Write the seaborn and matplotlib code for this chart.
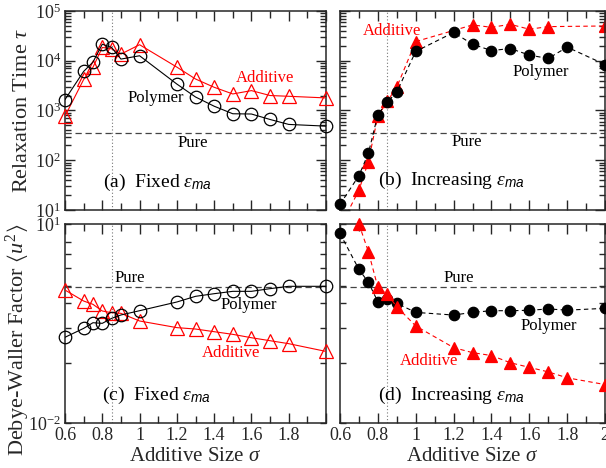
import numpy as np
import matplotlib
matplotlib.use("Agg")
import matplotlib.pyplot as plt
import matplotlib.ticker as mticker
import seaborn as sns

# ---------------- data ----------------
sigma = [0.6, 0.7, 0.75, 0.8, 0.85, 0.9, 1.0, 1.2, 1.3, 1.4, 1.5, 1.6, 1.7, 1.8, 2.0]

tau_poly_fixed = [1660, 6100, 9400, 21500, 18500, 10800, 12600, 3400, 1870, 1220, 860, 850, 660, 525, 485]
tau_add_fixed = [770, 4200, 7400, 18500, 17400, 13600, 21000, 7450, 4300, 2930, 2150, 2510, 2000, 1930, 1790]

tau_poly_inc = [13, 49, 138, 830, 1470, 2360, 15400, 37000, 21500, 16000, 17600, 13000, 11100, 18800, 8400]
sigma_add_inc_tau = [0.6, 0.7, 0.75, 0.8, 0.85, 0.9, 1.0, 1.3, 1.4, 1.5, 1.6, 1.7, 2.0]
tau_add_inc = [4.5, 25, 94, 770, 1540, 2950, 24300, 52500, 47000, 54000, 43000, 48500, 50000]

dw_poly_fixed = [0.196, 0.267, 0.325, 0.318, 0.378, 0.425, 0.493, 0.667, 0.812, 0.89, 0.966, 0.966, 1.06, 1.15, 1.15]
dw_add_fixed = [1.01, 0.69, 0.615, 0.488, 0.46, 0.45, 0.345, 0.274, 0.261, 0.238, 0.217, 0.193, 0.174, 0.157, 0.12]

dw_poly_inc = [7.2, 2.07, 1.32, 0.675, 0.73, 0.637, 0.465, 0.424, 0.465, 0.493, 0.493, 0.5, 0.524, 0.503, 0.535]
sigma_add_inc_dw = [0.7, 0.75, 0.8, 0.85, 0.9, 1.0, 1.2, 1.3, 1.4, 1.5, 1.6, 1.7, 1.8, 2.0]
dw_add_inc = [10.0, 3.83, 1.11, 0.87, 0.566, 0.29, 0.137, 0.115, 0.104, 0.081, 0.069, 0.059, 0.048, 0.038]

tau_pure = 360
dw_pure = 1.135
sigma_star = 0.85

tau_lim = (10, 1e5)
dw_lim = (0.01, 10)
dw_minor_ticks = [5.3, 3.5, 2.15, 1.17, 0.64, 0.27, 0.079]
x_tick_labels = ["0.6", "0.8", "1", "1.2", "1.4", "1.6", "1.8", "2"]

# ---------------- style ----------------
sns.set_style("ticks")
plt.rcParams['font.family'] = ['Liberation Serif', 'DejaVu Serif']
plt.rcParams['mathtext.fontset'] = 'custom'
plt.rcParams['mathtext.rm'] = 'Liberation Serif'
plt.rcParams['mathtext.it'] = 'Liberation Serif:italic'
plt.rcParams['mathtext.sf'] = 'Liberation Sans:italic'
plt.rcParams['mathtext.fallback'] = 'stix'
plt.rcParams['axes.linewidth'] = 1.1

RED = '#ff0000'
W, H = 606, 468
fig = plt.figure(figsize=(W / 100, H / 100), dpi=100)


def rect(x0, y0, x1, y1):
    return [x0 / W, 1 - y1 / H, (x1 - x0) / W, (y1 - y0) / H]


ax_a = fig.add_axes(rect(65, 11, 326, 210))
ax_b = fig.add_axes(rect(340, 11, 605, 210))
ax_c = fig.add_axes(rect(65, 224, 326, 423))
ax_d = fig.add_axes(rect(340, 224, 605, 423))


def draw(ax, x, y, color, ls, marker, filled, ms, ylim, zorder):
    x = np.asarray(x, float)
    y = np.asarray(y, float)
    sns.lineplot(x=x, y=y, ax=ax, color=color, lw=0.8, linestyle=ls,
                 sort=False, estimator=None, zorder=zorder)
    m = (y >= ylim[0] * 0.999) & (y <= ylim[1] * 1.001)
    sns.lineplot(x=x[m], y=y[m], ax=ax, color=color, linestyle='none',
                 marker=marker, markersize=ms,
                 markerfacecolor=color if filled else 'none',
                 markeredgecolor=color, markeredgewidth=0.9,
                 sort=False, estimator=None, clip_on=False, zorder=zorder + 0.5)


dash = (0, (4, 3))
# (a)
draw(ax_a, sigma, tau_add_fixed, RED, '-', '^', False, 9.5, tau_lim, 3)
draw(ax_a, sigma, tau_poly_fixed, 'black', '-', 'o', False, 9, tau_lim, 4)
# (b)
draw(ax_b, sigma, tau_poly_inc, 'black', dash, 'o', True, 7.5, tau_lim, 3)
draw(ax_b, sigma_add_inc_tau, tau_add_inc, RED, dash, '^', True, 8, tau_lim, 2)
# (c)
draw(ax_c, sigma, dw_add_fixed, RED, '-', '^', False, 9.5, dw_lim, 3)
draw(ax_c, sigma, dw_poly_fixed, 'black', '-', 'o', False, 9, dw_lim, 4)
# (d)
draw(ax_d, sigma, dw_poly_inc, 'black', dash, 'o', True, 7.5, dw_lim, 3)
draw(ax_d, sigma_add_inc_dw, dw_add_inc, RED, dash, '^', True, 8, dw_lim, 4)

for ax, pure, ylim in [(ax_a, tau_pure, tau_lim), (ax_b, tau_pure, tau_lim),
                       (ax_c, dw_pure, dw_lim), (ax_d, dw_pure, dw_lim)]:
    ax.axhline(pure, color='#444444', lw=0.9, ls=(0, (5, 3)), zorder=1)
    ax.axvline(sigma_star, color='#777777', lw=0.8, ls=(0, (1, 2)), zorder=1)
    ax.set_yscale('log')
    ax.set_ylim(*ylim)
    ax.set_xlim(0.6, 2.0)
    ax.xaxis.set_major_locator(mticker.MultipleLocator(0.2))
    ax.xaxis.set_minor_locator(mticker.MultipleLocator(0.1))
    ax.tick_params(which='both', direction='in', top=True, right=True,
                   labelsize=13, pad=3, width=1.0)
    ax.tick_params(which='major', length=7)
    ax.tick_params(which='minor', length=4)
    ax.tick_params(axis='x', which='minor', length=5)
    ax.set_xlabel('')
    ax.set_ylabel('')

for ax in (ax_a, ax_b):
    ax.yaxis.set_major_locator(mticker.LogLocator(base=10, numticks=10))
    ax.yaxis.set_minor_locator(mticker.LogLocator(base=10, subs=np.arange(2, 10), numticks=10))
    ax.yaxis.set_minor_formatter(mticker.NullFormatter())
    ax.tick_params(axis='x', labelbottom=False)

for ax in (ax_c, ax_d):
    ax.yaxis.set_major_locator(mticker.FixedLocator([0.01, 10]))
    ax.yaxis.set_minor_locator(mticker.FixedLocator(dw_minor_ticks))
    ax.yaxis.set_minor_formatter(mticker.NullFormatter())
    ax.yaxis.set_major_formatter(mticker.LogFormatterSciNotation())
    ax.tick_params(axis='y', which='major', length=4)
    ax.xaxis.set_major_locator(mticker.FixedLocator(np.arange(0.6, 2.01, 0.2)))
    ax.set_xticklabels(x_tick_labels)
    ax.set_xlabel(r'Additive Size $\sigma$', fontsize=15, labelpad=2)

ax_c.set_xticklabels(x_tick_labels[:-1] + [''])

for ax in (ax_b, ax_d):
    ax.tick_params(axis='y', labelleft=False)

ax_a.set_ylabel(r'Relaxation Time $\tau$', fontsize=16)
ax_a.yaxis.set_label_coords(-0.125, 0.5)
ax_c.set_ylabel(r'Debye-Waller Factor $\langle u^2\rangle$', fontsize=16)
ax_c.yaxis.set_label_coords(-0.125, 0.42)

# annotations
def lab(ax, fx, fy, s, color='black', size=12, ha='center'):
    ax.text(fx, fy, s, transform=ax.transAxes, color=color, fontsize=size,
            ha=ha, va='center')

lab(ax_a, 0.765, 0.663, 'Additive', RED)
lab(ax_a, 0.346, 0.563, 'Polymer')
lab(ax_a, 0.488, 0.337, 'Pure')
lab(ax_a, 0.146, 0.14, r'(a)  Fixed $\varepsilon_{\mathsf{ma}}$', size=14, ha='left')

lab(ax_b, 0.195, 0.90, 'Additive', RED)
lab(ax_b, 0.756, 0.693, 'Polymer')
lab(ax_b, 0.477, 0.342, 'Pure')
lab(ax_b, 0.143, 0.15, r'(b)  Increasing $\varepsilon_{\mathsf{ma}}$', size=14, ha='left')

lab(ax_c, 0.25, 0.731, 'Pure')
lab(ax_c, 0.705, 0.593, 'Polymer')
lab(ax_c, 0.638, 0.354, 'Additive', RED)
lab(ax_c, 0.142, 0.14, r'(c)  Fixed $\varepsilon_{\mathsf{ma}}$', size=14, ha='left')

lab(ax_d, 0.45, 0.729, 'Pure')
lab(ax_d, 0.787, 0.487, 'Polymer')
lab(ax_d, 0.335, 0.31, 'Additive', RED)
lab(ax_d, 0.143, 0.14, r'(d)  Increasing $\varepsilon_{\mathsf{ma}}$', size=14, ha='left')

fig.savefig('out.png', dpi=100)
